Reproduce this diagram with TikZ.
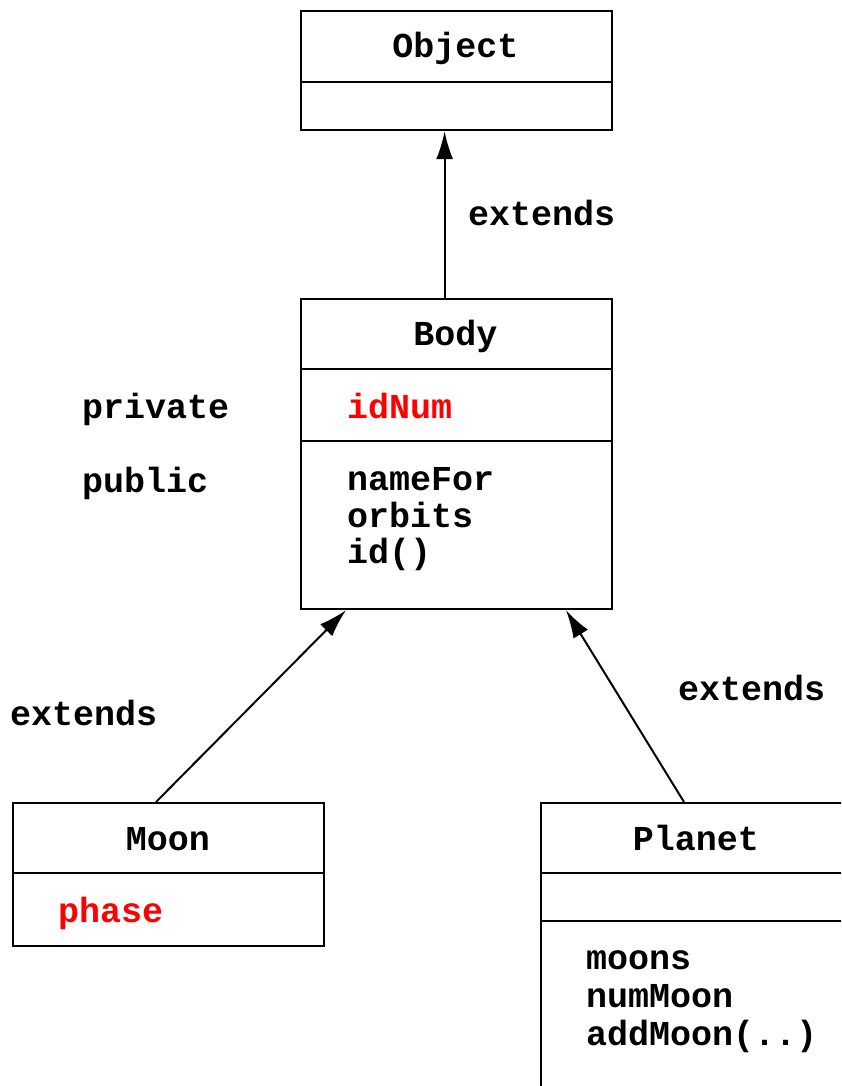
\documentclass[tikz,border=0pt]{standalone}
\usepackage{fontspec}
\setmonofont{Liberation Mono}
\usetikzlibrary{arrows.meta,calc}
\begin{document}
\begin{tikzpicture}[x=1pt,y=-1pt,
  cls/.style={draw, line width=2.2pt, minimum width=311pt, minimum height=#1,
              inner sep=0pt, anchor=north west},
  sep/.style={line width=2.2pt},
  lbl/.style={font=\ttfamily\bfseries\fontsize{35}{37}\selectfont, inner sep=0pt},
  priv/.style={lbl, text=red},
  ext/.style={-{Latex[length=28pt,width=17pt]}, line width=2pt}]
\useasboundingbox (0,0) rectangle (841,1086);
\clip (0,0) rectangle (841,1086);

% class boxes
\node[cls=119pt] (object) at (300,10) {};
\node[cls=310pt] (body)   at (300,298) {};
\node[cls=143pt] (moon)   at (12,802) {};
\node[cls=400pt] (planet) at (540,802) {};

% compartment dividers
\draw[sep] ($(object.north west)+(0,72)$) -- ($(object.north east)+(0,72)$);
\draw[sep] ($(body.north west)+(0,71)$) -- ($(body.north east)+(0,71)$);
\draw[sep] ($(body.north west)+(0,143)$) -- ($(body.north east)+(0,143)$);
\draw[sep] ($(moon.north west)+(0,71)$) -- ($(moon.north east)+(0,71)$);
\draw[sep] ($(planet.north west)+(0,71)$) -- ($(planet.north east)+(0,71)$);
\draw[sep] ($(planet.north west)+(0,119)$) -- ($(planet.north east)+(0,119)$);

% class names
\node[lbl, anchor=base] (tobject) at (455.5,58) {Object};
\node[lbl, anchor=base] (tbody)   at (455.5,345) {Body};
\node[lbl, anchor=base] (tmoon)   at (168,850) {Moon};
\node[lbl, anchor=base] (tplanet) at (696,850) {Planet};

% members
\node[priv, anchor=base west] (idnum)   at (347,418) {idNum};
\node[lbl,  anchor=base west] (namefor) at (347,490) {nameFor};
\node[lbl,  anchor=base west] (orbits)  at (347,527) {orbits};
\node[lbl,  anchor=base west] (idfn)    at (347,563) {id()};
\node[priv, anchor=base west] (phase)   at (58,922) {phase};
\node[lbl,  anchor=base west] (moons)   at (586,969) {moons};
\node[lbl,  anchor=base west] (nummoon) at (586,1007) {numMoon};
\node[lbl,  anchor=base west] (addmoon) at (586,1045) {addMoon(..)};

% visibility labels
\node[lbl, anchor=base west] (private) at (82,418) {private};
\node[lbl, anchor=base west] (public)  at (82,492) {public};

% inheritance arrows
\draw[ext] ($(body.north)+(-12,0)$) -- ($(object.south)+(-12,0)$);
\draw[ext] ($(moon.north west)+(144,0)$) -- ($(body.south west)+(46,0)$);
\draw[ext] ($(planet.north west)+(144,0)$) -- ($(body.south west)+(266,0)$);

\node[lbl, anchor=base west] (ext1) at (468,225) {extends};
\node[lbl, anchor=base west] (ext2) at (10,725) {extends};
\node[lbl, anchor=base west] (ext3) at (678,700) {extends};
\end{tikzpicture}
\end{document}
